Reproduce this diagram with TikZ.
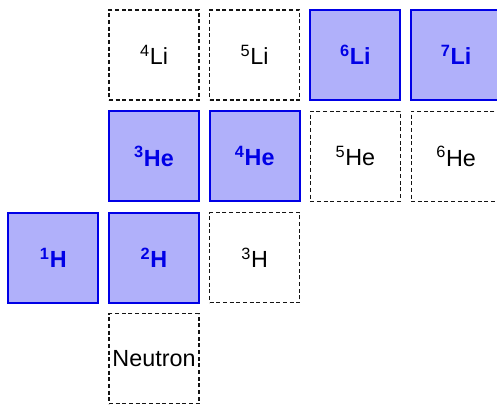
\documentclass[tikz,border=0pt]{standalone}
\usepackage{fontspec}
\setmainfont{Liberation Sans}
\usepackage{xcolor}
\definecolor{isofill}{RGB}{176,176,250}
\definecolor{isoblue}{RGB}{0,0,230}
\definecolor{coal}{RGB}{20,20,20}
\usepackage{tikz}
\usetikzlibrary{positioning}

\begin{document}
\begin{tikzpicture}[
  x=0.75pt,y=-0.75pt,
  stable/.style={rectangle,draw=isoblue,fill=isofill,line width=1.5pt,
                 minimum size=67.5pt,inner sep=0pt,
                 font=\fontsize{17.5}{20}\selectfont\bfseries,text=isoblue},
  unstable/.style={rectangle,draw=coal,densely dashed,line width=0.8pt,
                   minimum size=67.5pt,inner sep=0pt,
                   font=\fontsize{17.5}{20}\selectfont,text=black},
]
  \useasboundingbox (0,0) rectangle (497,405);

  %% row 1: lithium
  \node[unstable](Li4) at (154,55) {\textsuperscript{4}Li};
  \node[unstable](Li5) at (254.7,55) {\textsuperscript{5}Li};
  \node[stable](Li6) at (355.4,55) {\textsuperscript{6}Li};
  \node[stable](Li7) at (456.1,55) {\textsuperscript{7}Li};

  %% row 2: helium
  \node[stable](He3) at (154,156.3) {\textsuperscript{3}He};
  \node[stable](He4) at (254.7,156.3) {\textsuperscript{4}He};
  \node[unstable](He5) at (355.4,156.3) {\textsuperscript{5}He};
  \node[unstable](He6) at (456.1,156.3) {\textsuperscript{6}He};

  %% row 3: hydrogen
  \node[stable](H1) at (53.3,257.6) {\textsuperscript{1}H};
  \node[stable](H2) at (154,257.6) {\textsuperscript{2}H};
  \node[unstable](H3) at (254.7,257.6) {\textsuperscript{3}H};

  %% row 4
  \node[unstable](n) at (154,358.9) {Neutron};
\end{tikzpicture}
\end{document}
